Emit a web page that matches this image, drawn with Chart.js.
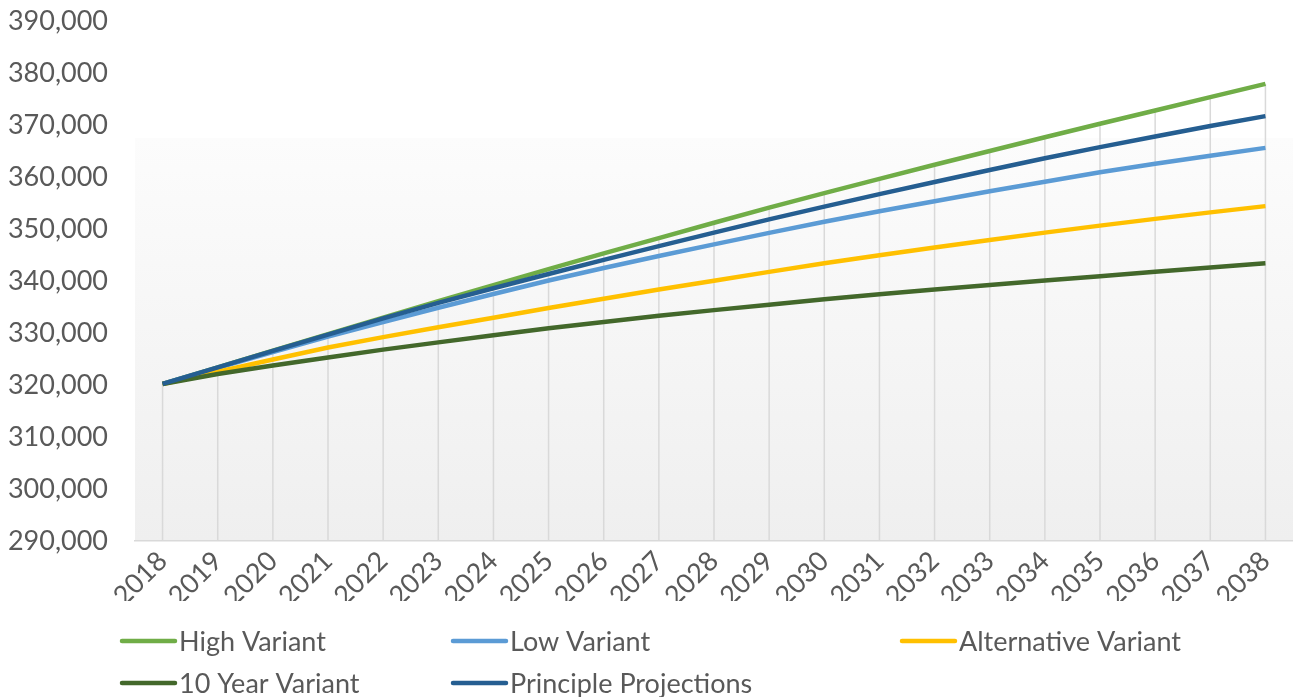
<!DOCTYPE html>
<html>
<head>
<meta charset="utf-8">
<title>Population projections 2018-2038</title>
<script src="https://cdn.jsdelivr.net/npm/chart.js@4/dist/chart.umd.min.js"></script>
<style>
    html, body { margin: 0; padding: 0; background: #ffffff; }
    #chart { display: block; }
</style>
</head>
<body>
<canvas id="chart" width="1293" height="697"></canvas>
<script>
// Projection years (category axis)
const years = ['2018', '2019', '2020', '2021', '2022', '2023', '2024', '2025', '2026', '2027', '2028',
               '2029', '2030', '2031', '2032', '2033', '2034', '2035', '2036', '2037', '2038'];

// Projected population per variant
const highVariant = [320200, 323400, 326600, 329800, 332950, 336100, 339200, 342300, 345300, 348250, 351200,
                     354100, 356900, 359650, 362350, 365000, 367650, 370250, 372800, 375350, 377900];
const lowVariant = [320200, 323300, 326350, 329300, 332100, 334850, 337500, 340100, 342500, 344800, 347050,
                    349250, 351400, 353400, 355350, 357250, 359100, 360900, 362550, 364100, 365600];
const alternativeVariant = [320200, 322550, 324900, 327200, 329200, 331100, 332950, 334800, 336600, 338350, 340050,
                            341750, 343400, 344950, 346450, 347900, 349300, 350650, 351950, 353200, 354400];
const tenYearVariant = [320200, 322100, 323750, 325300, 326800, 328200, 329550, 330900, 332100, 333300, 334400,
                        335450, 336500, 337450, 338350, 339250, 340100, 340900, 341800, 342600, 343400];
const principleProjections = [320200, 323400, 326550, 329700, 332800, 335800, 338600, 341350, 344050, 346700, 349300,
                              351850, 354300, 356700, 359050, 361350, 363600, 365750, 367800, 369800, 371700];

const seriesNames = ['High Variant', 'Low Variant', 'Alternative Variant', '10 Year Variant', 'Principle Projections'];

const FONT = 'Lato, "Open Sans", sans-serif';
const TEXT_COLOR = '#595959';
const LINE_GREY = '#d9d9d9';

function makeLine(label, data, color, order) {
    return {
        label: label,
        data: data,
        borderColor: color,
        backgroundColor: color,
        borderWidth: 4.5,
        pointRadius: 0,
        pointHoverRadius: 0,
        tension: 0,
        fill: false,
        order: order
    };
}

// Soft grey wall behind the lines, fading in from the upper part of the plot
const plotBackground = {
    id: 'plotBackground',
    beforeDraw(chart) {
        const { ctx, chartArea } = chart;
        const top = chartArea.top + (chartArea.bottom - chartArea.top) * 0.225;
        const grad = ctx.createLinearGradient(0, top, 0, chartArea.bottom);
        grad.addColorStop(0, '#fcfcfc');
        grad.addColorStop(1, '#efefef');
        ctx.save();
        ctx.fillStyle = grad;
        ctx.fillRect(chartArea.left, top, chartArea.right - chartArea.left, chartArea.bottom - top);
        ctx.restore();
    }
};

// Drop lines: from the highest series value at each year down to the axis
const dropLines = {
    id: 'dropLines',
    beforeDatasetsDraw(chart) {
        const { ctx, chartArea, scales } = chart;
        ctx.save();
        ctx.strokeStyle = LINE_GREY;
        ctx.lineWidth = 1.5;
        years.forEach((yr, i) => {
            const top = Math.max(...chart.data.datasets.map(ds => ds.data[i]));
            const x = scales.x.getPixelForValue(i);
            ctx.beginPath();
            ctx.moveTo(x, scales.y.getPixelForValue(top));
            ctx.lineTo(x, chartArea.bottom);
            ctx.stroke();
        });
        ctx.restore();
    }
};

// Legend laid out in a three-column grid under the axis labels
const gridLegend = {
    id: 'gridLegend',
    afterDraw(chart) {
        const { ctx } = chart;
        const cols = [120, 451, 900];
        const rows = [641, 683];
        ctx.save();
        ctx.font = '27px ' + FONT;
        ctx.textBaseline = 'middle';
        ctx.textAlign = 'left';
        chart.data.datasets.forEach((ds, i) => {
            const x = cols[i % 3];
            const y = rows[Math.floor(i / 3)];
            ctx.strokeStyle = ds.borderColor;
            ctx.lineWidth = 4.5;
            ctx.lineCap = 'round';
            ctx.beginPath();
            ctx.moveTo(x + 2, y);
            ctx.lineTo(x + 55, y);
            ctx.stroke();
            ctx.fillStyle = TEXT_COLOR;
            ctx.fillText(ds.label, x + 59, y + 1);
        });
        ctx.restore();
    }
};

const config = {
    type: 'line',
    data: {
        labels: years,
        datasets: [
            makeLine(seriesNames[0], highVariant, '#70ad47', 5),
            makeLine(seriesNames[1], lowVariant, '#5b9bd5', 4),
            makeLine(seriesNames[2], alternativeVariant, '#ffc000', 3),
            makeLine(seriesNames[3], tenYearVariant, '#43682b', 2),
            makeLine(seriesNames[4], principleProjections, '#255e91', 1)
        ]
    },
    options: {
        responsive: false,
        animation: false,
        layout: {
            padding: { top: 21, right: 0, bottom: 96, left: 0 }
        },
        scales: {
            x: {
                offset: true,
                grid: { display: false, drawTicks: false },
                border: { color: LINE_GREY, width: 1.5 },
                ticks: {
                    color: TEXT_COLOR,
                    font: { family: FONT, size: 27 },
                    minRotation: 45,
                    maxRotation: 45,
                    autoSkip: false,
                    padding: 4
                },
                afterFit(scale) {
                    scale.height = 60;
                    scale.paddingLeft = 0;
                    scale.paddingRight = 0;
                }
            },
            y: {
                min: 290000,
                max: 390000,
                ticks: {
                    stepSize: 10000,
                    color: TEXT_COLOR,
                    font: { family: FONT, size: 27 },
                    padding: 27,
                    callback: (v) => v.toLocaleString('en-US')
                },
                grid: { display: false, drawTicks: false },
                border: { display: false },
                afterFit(scale) {
                    scale.width = 135;
                    scale.paddingTop = 0;
                    scale.paddingBottom = 0;
                }
            }
        },
        plugins: {
            legend: { display: false },
            tooltip: { enabled: false }
        }
    },
    plugins: [plotBackground, dropLines, gridLegend]
};

new Chart(document.getElementById('chart').getContext('2d'), config);
</script>
</body>
</html>
